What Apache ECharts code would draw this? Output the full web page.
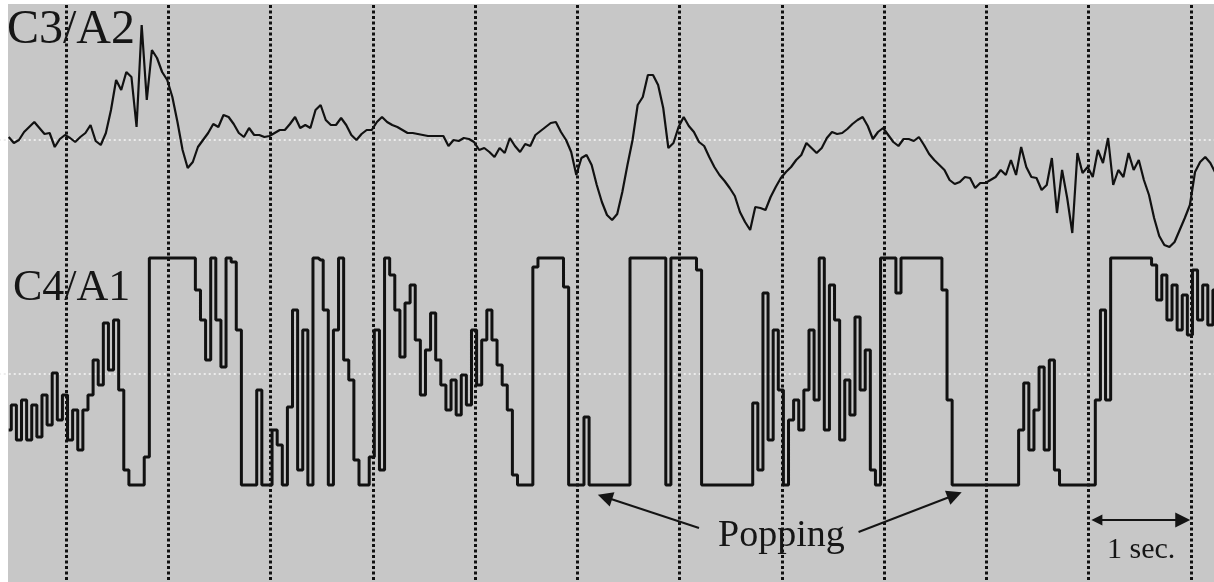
<!DOCTYPE html>
<html>
<head>
<meta charset="utf-8">
<script src="https://cdn.jsdelivr.net/npm/echarts@6/dist/echarts.min.js"></script>
<style>
html,body{margin:0;padding:0;background:#fff;}
#chart{width:1214px;height:582px;}
</style>
</head>
<body>
<div id="chart"></div>
<script>
// time base (seconds): first sample and sample step
const t0 = 0.44;
const dt = 0.05;
// second marks (dotted vertical grid lines at every whole second)
const secondTicks = { min: 0, max: 12.25, interval: 1 };

// C3/A2 trace amplitude (arbitrary units, + up)
const c3 = [3,-3,0,8,13,18,12,6,7,-7,1,5,2,-2,3,7,15,-1,-5,7,
30,60,50,68,63,13,115,40,90,82,68,60,43,18,-10,-28,-22,-7,0,7,
16,13,25,23,16,7,3,12,5,5,3,4,7,10,10,16,23,12,15,12,
30,35,20,15,15,22,15,5,0,6,10,10,18,23,18,15,13,10,7,7,
6,5,4,4,4,4,-6,0,-1,2,1,-2,-10,-8,-12,-17,-8,-13,2,-6,
-12,-4,-6,5,9,13,17,18,8,0,-12,-35,-18,-15,-25,-45,-62,-75,-80,-74,
-52,-25,0,35,43,65,65,55,32,-8,-3,13,23,14,8,-2,-6,-17,-27,-35,
-41,-48,-56,-72,-82,-90,-67,-68,-70,-57,-47,-38,-32,-27,-20,-15,-3,-8,-13,-8,
2,8,6,7,11,16,20,23,14,1,8,12,5,-2,-6,1,1,-1,3,-5,
-14,-20,-25,-30,-40,-44,-42,-37,-38,-48,-43,-43,-40,-37,-30,-35,-20,-35,-7,-27,
-37,-38,-50,-45,-18,-73,-30,-58,-93,-13,-33,-27,-37,-10,-23,2,-45,-30,-37,-13,
-30,-20,-40,-55,-78,-96,-105,-107,-102,-90,-78,-65,-32,-22,-17,-23,-33];

// C4/A1 trace amplitude (same units, clipped at about +116 / -111)
const c4 = [-56,-31,-66,-26,-66,-31,-63,-21,-51,1,-46,-21,-66,-36,-76,-36,-21,14,-11,51,
4,54,-16,-96,-111,-111,-111,-83,116,116,116,116,116,116,116,116,116,84,54,14,
116,54,7,116,112,44,-111,-111,-111,-16,-111,-111,-56,-71,-111,-33,64,-96,44,-111,
116,114,64,-111,44,116,14,-6,-86,-111,-111,-83,44,-96,116,99,64,17,71,89,
34,-21,24,61,14,-11,-36,-6,-41,-1,-31,44,-11,34,64,34,9,-11,-36,-101,
-111,-111,-111,107,116,116,116,116,116,87,-111,-111,-111,-43,-111,-111,-111,-111,-111,-111,
-111,-111,116,116,116,116,116,116,116,-111,116,116,116,116,116,104,-111,-111,-111,-111,
-111,-111,-111,-111,-111,-111,-29,-96,81,-66,44,-16,-111,-46,-26,-56,-16,44,-26,116,
-56,89,54,-66,-6,-41,57,-16,24,-96,-111,116,116,116,81,116,116,116,116,116,
116,116,116,84,-26,-111,-111,-111,-111,-111,-111,-111,-111,-111,-111,-111,-111,-111,-56,-9,
-76,-36,7,-76,14,-96,-111,-111,-111,-111,-111,-111,-111,-26,64,-26,116,116,116,116,
116,116,116,116,109,74,99,54,89,44,79,39,104,54,89,49,84];

// annotation arrows (time in s, amplitude in C4 units)
const popArrowLeft  = [[7.19, -154], [6.27, -123]];
const popArrowRight = [[8.75, -158], [9.69, -121]];
const secArrow      = [[11.08, -146], [11.92, -146]];

const toPairs = arr => arr.map((v, i) => [Number((t0 + i * dt).toFixed(2)), v]);

const chart = echarts.init(document.getElementById('chart'), null, { renderer: 'canvas' });

const gridLeft = -36.27;
const gridRight = -2.5;
const serif = '"Liberation Serif", "DejaVu Serif", serif';

const hiddenX = Object.assign({ type: 'value', show: false }, secondTicks);

const option = {
  animation: false,
  backgroundColor: '#ffffff',
  grid: [
    { left: gridLeft, right: gridRight, top: 5, bottom: 0, outerBoundsMode: 'none' },
    { left: gridLeft, right: gridRight, top: 5, height: 270, outerBoundsMode: 'none' },
    { left: gridLeft, right: gridRight, top: 244, height: 260, outerBoundsMode: 'none' }
  ],
  xAxis: [
    Object.assign({
      type: 'value', gridIndex: 0,
      axisLine: { show: false }, axisTick: { show: false }, axisLabel: { show: false },
      splitLine: { show: true, lineStyle: { color: '#111111', width: 3, type: [3, 2.5] } }
    }, secondTicks),
    Object.assign({ gridIndex: 1 }, hiddenX),
    Object.assign({ gridIndex: 2 }, hiddenX)
  ],
  yAxis: [
    { type: 'value', gridIndex: 0, min: -208, max: 369, show: false },
    {
      type: 'value', gridIndex: 1, min: -135, max: 135, interval: 135,
      axisLine: { show: false }, axisTick: { show: false }, axisLabel: { show: false },
      splitLine: { show: true, showMinLine: false, showMaxLine: false,
        lineStyle: { color: '#ececec', width: 2, type: [2, 3] } }
    },
    {
      type: 'value', gridIndex: 2, min: -130, max: 130, interval: 130,
      axisLine: { show: false }, axisTick: { show: false }, axisLabel: { show: false },
      splitLine: { show: true, showMinLine: false, showMaxLine: false,
        lineStyle: { color: '#ececec', width: 2, type: [2, 3] } }
    }
  ],
  graphic: [
    { type: 'rect', z: -100, silent: true, shape: { x: 8, y: 4, width: 1206, height: 578 },
      style: { fill: '#c7c7c7' } },
    { type: 'text', z: 100, x: 7, y: 30, style: { text: 'C3/A2', font: '48px ' + serif, fill: '#161616', verticalAlign: 'middle' } },
    { type: 'text', z: 100, x: 13, y: 288, style: { text: 'C4/A1', font: '44px ' + serif, fill: '#161616', verticalAlign: 'middle' } },
    { type: 'text', z: 100, x: 718, y: 536, style: { text: 'Popping', font: '38px ' + serif, fill: '#161616', verticalAlign: 'middle' } },
    { type: 'text', z: 100, x: 1107, y: 550, style: { text: '1 sec.', font: '30px ' + serif, fill: '#161616', verticalAlign: 'middle' } }
  ],
  series: [
    {
      name: 'C3/A2', type: 'line', xAxisIndex: 1, yAxisIndex: 1,
      data: toPairs(c3), symbol: 'none', clip: false,
      lineStyle: { color: '#111111', width: 2.2 }
    },
    {
      name: 'C4/A1', type: 'line', xAxisIndex: 2, yAxisIndex: 2, step: 'middle',
      data: toPairs(c4), symbol: 'none', clip: false,
      lineStyle: { color: '#111111', width: 3 }
    },
    {
      name: 'annotations', type: 'lines', coordinateSystem: 'cartesian2d',
      xAxisIndex: 0, yAxisIndex: 0, silent: true, z: 5,
      symbol: ['none', 'triangle'], symbolSize: [11, 15],
      lineStyle: { color: '#141414', width: 2, opacity: 1 },
      data: [
        { coords: popArrowLeft },
        { coords: popArrowRight },
        { coords: secArrow, symbol: ['triangle', 'triangle'] }
      ]
    }
  ]
};
chart.setOption(option);
</script>
</body>
</html>
